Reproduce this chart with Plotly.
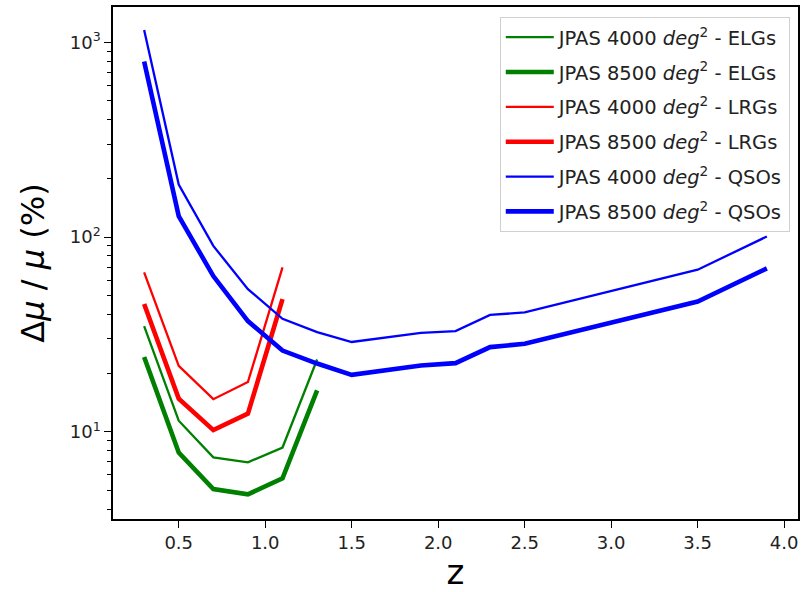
import plotly.graph_objects as go

# ---- data ----
z_elg = [0.3, 0.5, 0.7, 0.9, 1.1, 1.3]
elg_4000 = [34.9, 11.4, 7.39, 6.97, 8.3, 23.5]
elg_8500 = [24.2, 7.82, 5.08, 4.77, 5.77, 16.3]

z_lrg = [0.3, 0.5, 0.7, 0.9, 1.1]
lrg_4000 = [65.8, 21.8, 14.7, 18.0, 69.8]
lrg_8500 = [45.3, 14.8, 10.2, 12.4, 48.0]

z_qso = [0.3, 0.5, 0.7, 0.9, 1.1, 1.3, 1.5, 1.7, 1.9, 2.1, 2.3, 2.5, 3.5, 3.9]
qso_4000 = [1156, 186, 90, 54, 38, 32.5, 28.9, 30.4, 32.2, 32.9, 39.8, 41.0, 67.9, 100.6]
qso_8500 = [796, 128, 63, 37, 26.1, 22.4, 19.6, 20.8, 21.9, 22.5, 27.2, 28.3, 46.6, 69.0]

x_ticks = [0.5, 1.0, 1.5, 2.0, 2.5, 3.0, 3.5, 4.0]
y_ticks = [10, 100, 1000]
y_ticktext = ["10<sup>1</sup>", "10<sup>2</sup>", "10<sup>3</sup>"]

series = [
    ("JPAS 4000 <i>deg</i><sup>2</sup> - ELGs", z_elg, elg_4000, "#008000", 2.3),
    ("JPAS 8500 <i>deg</i><sup>2</sup> - ELGs", z_elg, elg_8500, "#008000", 4.6),
    ("JPAS 4000 <i>deg</i><sup>2</sup> - LRGs", z_lrg, lrg_4000, "#ff0000", 2.3),
    ("JPAS 8500 <i>deg</i><sup>2</sup> - LRGs", z_lrg, lrg_8500, "#ff0000", 4.6),
    ("JPAS 4000 <i>deg</i><sup>2</sup> - QSOs", z_qso, qso_4000, "#0000ff", 2.3),
    ("JPAS 8500 <i>deg</i><sup>2</sup> - QSOs", z_qso, qso_8500, "#0000ff", 4.6),
]

FONT = "DejaVu Sans"
fig = go.Figure()
for i, (name, x, y, color, w) in enumerate(series):
    fig.add_trace(go.Scatter(
        x=x, y=y, mode="lines", name=name, legendgroup=f"g{i}",
        line=dict(color=color, width=w),
    ))

minor_vals = [m * 10 ** e for e in range(0, 4) for m in range(2, 10)]

fig.update_layout(
    width=805, height=592,
    margin=dict(l=113, r=5, t=7, b=72),
    paper_bgcolor="white", plot_bgcolor="white",
    font=dict(family=FONT, color="#222222", size=18),
    showlegend=True,
    legend=dict(
        x=0.988, y=0.9805, xanchor="right", yanchor="top",
        bgcolor="rgba(255,255,255,0.8)", bordercolor="#d0d0d0", borderwidth=1,
        font=dict(family=FONT, size=19.5, color="#222222"),
        tracegroupgap=6.5, itemwidth=48,
    ),
    xaxis=dict(
        range=[0.12, 4.08], tickvals=x_ticks,
        ticktext=[f"{v:.1f}" for v in x_ticks],
        ticks="outside", ticklen=7, tickwidth=1.3, tickcolor="black",
        showline=True, linecolor="black", linewidth=1.5, mirror=True,
        showgrid=False, zeroline=False,
        tickfont=dict(size=18),
        title=dict(text="z", font=dict(size=34, color="black"), standoff=10),
    ),
    yaxis=dict(
        type="log", range=[0.552, 3.181],
        tickvals=y_ticks, ticktext=y_ticktext,
        ticks="outside", ticklen=7, tickwidth=1.3, tickcolor="black",
        minor=dict(tickvals=minor_vals, ticks="outside", ticklen=4, tickwidth=1, tickcolor="black"),
        showline=True, linecolor="black", linewidth=1.5, mirror=True,
        showgrid=False, zeroline=False,
        tickfont=dict(size=18),
        title=dict(text="Δ<i>μ</i> / <i>μ</i> (%)", font=dict(size=32, color="black"), standoff=16),
    ),
)

fig.write_html("out.html")
